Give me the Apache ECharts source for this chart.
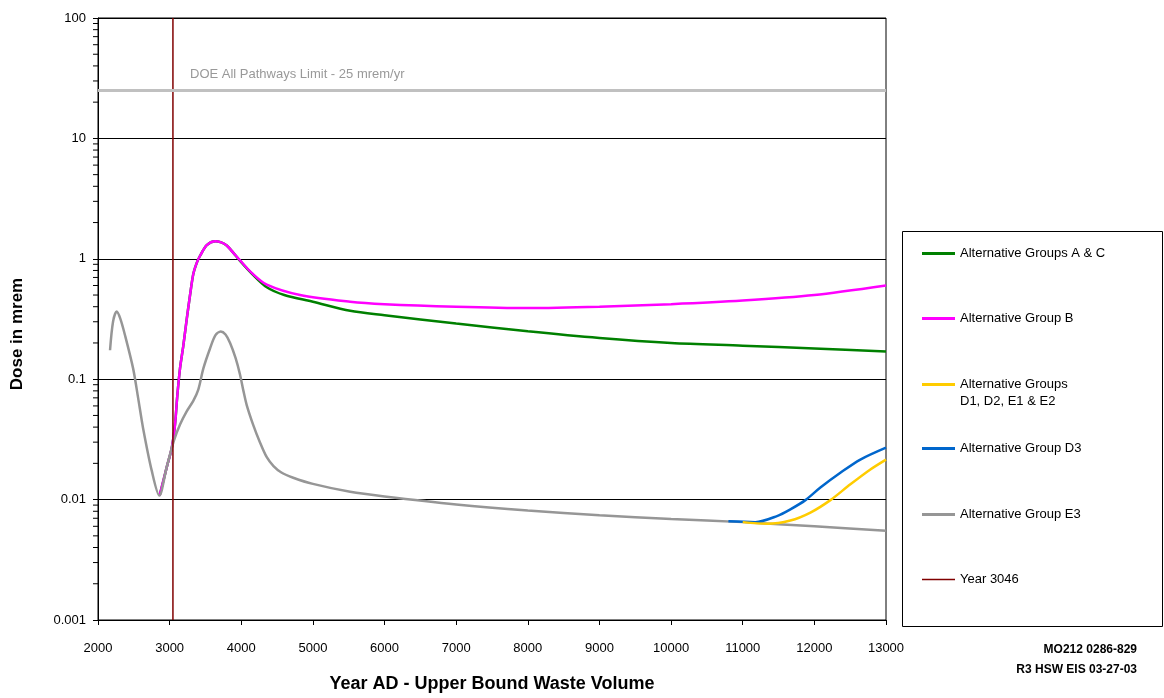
<!DOCTYPE html>
<html>
<head>
<meta charset="utf-8">
<script src="https://cdn.jsdelivr.net/npm/echarts@6/dist/echarts.min.js"></script>
<style>
  html, body { margin: 0; padding: 0; background: #fff; }
  #chart { width: 1164px; height: 698px; }
</style>
</head>
<body>
<div id="chart"></div>
<script>
// [year, dose in mrem]
const groupAC = [
  [2860, 0.0108], [2960, 0.0186], [3030, 0.027], [3075, 0.042], [3108, 0.074],
  [3145, 0.123], [3191, 0.19], [3240, 0.32], [3285, 0.50], [3331, 0.75],
  [3380, 0.93], [3425, 1.06], [3518, 1.30], [3634, 1.40], [3720, 1.37],
  [3797, 1.29], [3890, 1.12], [3983, 0.96], [4150, 0.75], [4356, 0.58],
  [4600, 0.50], [5000, 0.44], [5520, 0.37], [6000, 0.34], [7000, 0.29],
  [8000, 0.25], [9000, 0.22], [10000, 0.20], [11000, 0.19], [12000, 0.18],
  [13000, 0.17]
];
const groupB = [
  [2860, 0.0108], [2960, 0.0186], [3030, 0.027], [3075, 0.042], [3108, 0.074],
  [3145, 0.123], [3191, 0.19], [3240, 0.32], [3285, 0.50], [3331, 0.75],
  [3380, 0.93], [3425, 1.06], [3518, 1.30], [3634, 1.40], [3720, 1.37],
  [3797, 1.29], [3890, 1.12], [3983, 0.97], [4150, 0.76], [4356, 0.61],
  [4821, 0.50], [5520, 0.44], [6000, 0.42], [7000, 0.40], [8000, 0.39],
  [9000, 0.40], [10000, 0.42], [11000, 0.45], [12000, 0.50], [13000, 0.60]
];
const groupD1D2E1E2 = [
  [11000, 0.0065], [11338, 0.0063], [11665, 0.0067], [11945, 0.0078], [12224, 0.0099],
  [12503, 0.0134], [12782, 0.0178], [13000, 0.0215]
];
const groupD3 = [
  [10800, 0.0066], [11176, 0.0065], [11478, 0.0073], [11665, 0.0083], [11875, 0.0099],
  [12084, 0.0126], [12363, 0.0167], [12642, 0.0215], [13000, 0.027]
];
const groupE3 = [
  [2168, 0.174], [2210, 0.30], [2261, 0.365], [2310, 0.32], [2377, 0.232],
  [2490, 0.123], [2560, 0.07], [2630, 0.039], [2750, 0.0174], [2856, 0.0108],
  [2959, 0.0186], [3061, 0.031], [3145, 0.042], [3238, 0.054], [3330, 0.066],
  [3400, 0.082], [3471, 0.123], [3564, 0.18], [3640, 0.232], [3713, 0.249],
  [3780, 0.235], [3844, 0.20], [3920, 0.15], [3983, 0.109], [4030, 0.08],
  [4076, 0.061], [4165, 0.042], [4260, 0.030], [4356, 0.0225], [4450, 0.019],
  [4560, 0.0168], [4725, 0.0152], [5000, 0.0135], [5520, 0.0116], [6000, 0.0106],
  [7000, 0.0091], [8000, 0.0081], [9000, 0.0074], [10000, 0.0069], [11000, 0.0065],
  [12000, 0.0060], [13000, 0.0055]
];
const year3046 = [[3046, 0.001], [3046, 100]];
const doeLimit = 25;
const yMinorTicks = [
  0.002, 0.003, 0.004, 0.005, 0.006, 0.007, 0.008, 0.009,
  0.02, 0.03, 0.04, 0.05, 0.06, 0.07, 0.08, 0.09,
  0.2, 0.3, 0.4, 0.5, 0.6, 0.7, 0.8, 0.9,
  2, 3, 4, 5, 6, 7, 8, 9,
  20, 30, 40, 50, 60, 70, 80, 90
];

const FONT = '"Liberation Sans", Arial, sans-serif';
const legendNames = [
  'Alternative Groups A & C',
  'Alternative Group B',
  'Alternative Groups\nD1, D2, E1 & E2',
  'Alternative Group D3',
  'Alternative Group E3',
  'Year 3046'
];
const legendTops = [245, 310, 376, 440, 506, 571];

const chart = echarts.init(document.getElementById('chart'));

const lineSeries = (name, data, color, width) => ({
  name, type: 'line', data, smooth: 0.3, symbol: 'none',
  lineStyle: { color, width }, itemStyle: { color }
});

chart.setOption({
  animation: false,
  backgroundColor: '#fff',
  textStyle: { fontFamily: FONT },
  grid: {
    left: 98, right: 278, top: 18, bottom: 75,
    show: true, borderColor: '#000', borderWidth: 1
  },
  // one legend per entry so the spacing follows the original box
  legend: legendNames.map((n, i) => ({
    data: [n],
    left: 922,
    top: legendTops[i],
    icon: 'rect',
    itemWidth: 33,
    itemHeight: i === 5 ? 1.5 : 3,
    itemGap: 5,
    padding: 0,
    formatter: name => name.split('\n')[0],
    textStyle: { fontFamily: FONT, fontSize: 13, color: '#000', lineHeight: 17 }
  })),
  xAxis: {
    type: 'value', min: 2000, max: 13000, interval: 1000,
    name: 'Year AD - Upper Bound Waste Volume',
    nameLocation: 'middle', nameGap: 55,
    nameTextStyle: { fontFamily: FONT, fontSize: 18, fontWeight: 'bold', color: '#000' },
    axisLine: { lineStyle: { color: '#000', width: 1 } },
    axisTick: { show: true, inside: false, length: 5, lineStyle: { color: '#000' } },
    axisLabel: { margin: 22, fontSize: 13, color: '#000', fontFamily: FONT,
      formatter: v => String(v) },
    splitLine: { show: false }
  },
  yAxis: {
    type: 'log', logBase: 10, min: 0.001, max: 100,
    name: 'Dose in mrem',
    nameLocation: 'middle', nameGap: 72,
    nameTextStyle: { fontFamily: FONT, fontSize: 17, fontWeight: 'bold', color: '#000', padding: [0, 0, 0, -30] },
    axisLine: { lineStyle: { color: '#000', width: 1 } },
    axisTick: { show: true, inside: false, length: 5, lineStyle: { color: '#000' } },
    axisLabel: { margin: 12, fontSize: 13, color: '#000', fontFamily: FONT,
      formatter: v => String(+v.toPrecision(3)) },
    splitLine: { show: true, lineStyle: { color: '#000', width: 1 } }
  },
  graphic: [
    { type: 'rect', left: 900, top: 229, shape: { width: 260, height: 395 },
      style: { fill: 'none', stroke: '#000', lineWidth: 1 }, z: -1 },
    { type: 'text', left: 960, top: 395,
      style: { text: legendNames[2].split('\n')[1], font: '13px ' + FONT, fill: '#000' } },
    { type: 'text', right: 27, top: 644,
      style: { text: 'MO212 0286-829', font: 'bold 12px ' + FONT, fill: '#000', textAlign: 'right' } },
    { type: 'text', right: 27, top: 664,
      style: { text: 'R3 HSW EIS 03-27-03', font: 'bold 12px ' + FONT, fill: '#000', textAlign: 'right' } }
  ],
  series: [
    {
      name: 'minor ticks', type: 'custom', clip: false, silent: true,
      data: yMinorTicks.map(v => [2000, v]),
      renderItem: (params, api) => {
        const p = api.coord([api.value(0), api.value(1)]);
        return {
          type: 'line',
          shape: { x1: p[0] - 5, y1: p[1], x2: p[0], y2: p[1] },
          style: { stroke: '#000', lineWidth: 1 }
        };
      }
    },
    {
      name: 'DOE limit', type: 'line', data: [], silent: true,
      markLine: {
        silent: true, symbol: 'none',
        lineStyle: { color: '#C0C0C0', width: 3, type: 'solid' },
        label: {
          show: true, position: 'insideStartTop', distance: [92, 10],
          formatter: 'DOE All Pathways Limit - 25 mrem/yr',
          color: '#999', fontSize: 13, fontFamily: FONT
        },
        data: [{ yAxis: doeLimit }]
      }
    },
    lineSeries(legendNames[0], groupAC, '#008000', 2.5),
    lineSeries(legendNames[1], groupB, '#FF00FF', 2.5),
    lineSeries(legendNames[4], groupE3, '#969696', 2.5),
    lineSeries(legendNames[3], groupD3, '#0066CC', 2.5),
    lineSeries(legendNames[2], groupD1D2E1E2, '#FFCC00', 2.5),
    {
      name: legendNames[5], type: 'line', data: year3046, symbol: 'none',
      lineStyle: { color: '#800000', width: 1.5 }, itemStyle: { color: '#800000' }
    }
  ]
});
</script>
</body>
</html>
